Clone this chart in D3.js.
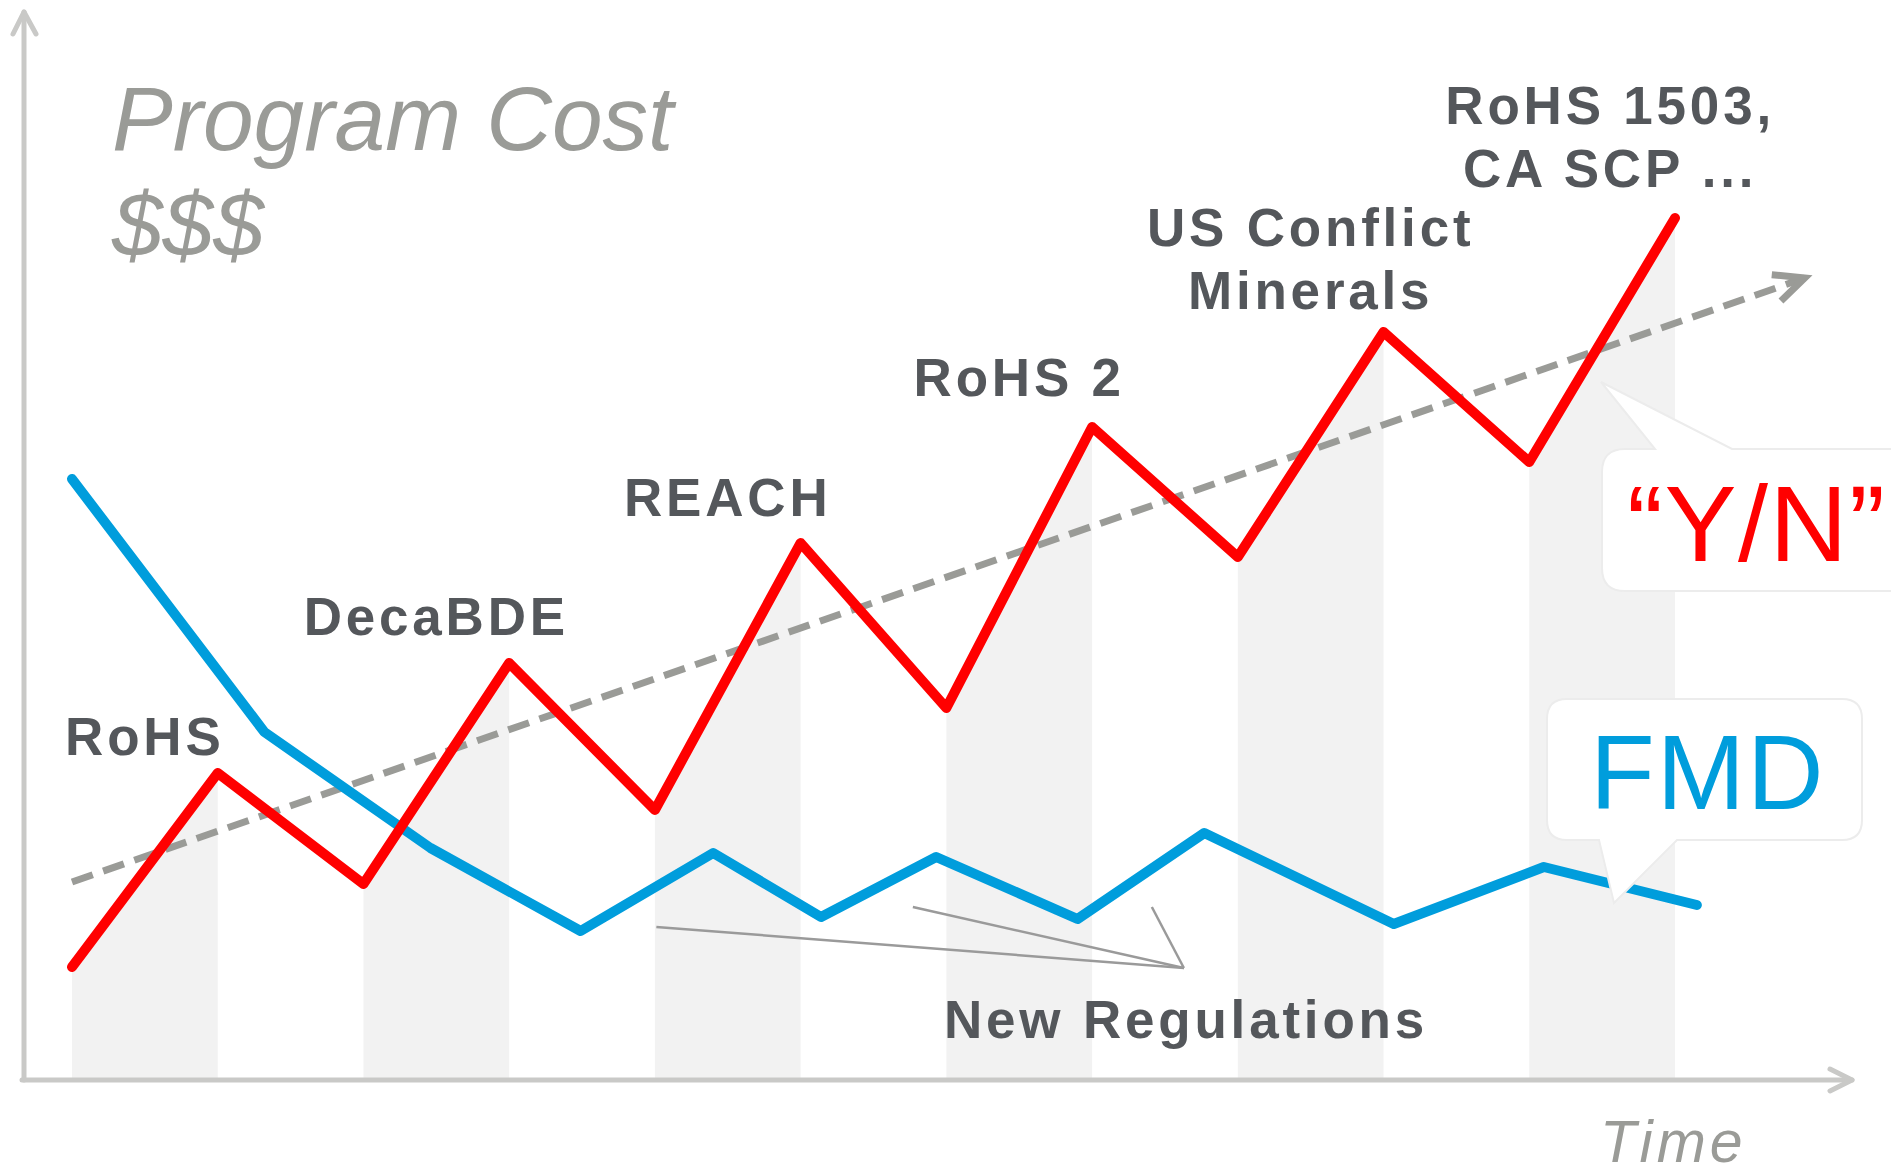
<!DOCTYPE html>
<html>
<head>
<meta charset="utf-8">
<script src="https://cdn.jsdelivr.net/npm/d3@7"></script>
<style>
body { margin: 0; background: #fff; }
svg { display: block; font-family: "Liberation Sans", Arial, sans-serif; }
</style>
</head>
<body>
<script>
var W = 1891, H = 1174;

// program cost per regulation step (red)
var steps = [0, 1, 2, 3, 4, 5, 6, 7, 8, 9, 10, 11];
var programCost = [11.3, 30.7, 19.6, 41.7, 27.0, 53.7, 37.2, 65.3, 52.3, 74.8, 61.8, 86.2];

// FMD cost (blue), sampled at its own points in time
var fmdTime = [0, 1.32, 2.46, 3.49, 4.40, 5.14, 5.93, 6.90, 7.77, 9.07, 10.10, 11.15];
var fmdCost = [60.1, 34.8, 23.2, 14.9, 22.7, 16.3, 22.3, 16.1, 24.7, 15.6, 21.3, 17.5];

// overall trend (dashed arrow)
var trendTime = [0, 11.89];
var trendCost = [19.8, 80.2];

// regulation names, one per shaded column
var regulations = [["RoHS"], ["DecaBDE"], ["REACH"], ["RoHS 2"], ["US Conflict", "Minerals"], ["RoHS 1503,", "CA SCP ..."]];
var regulationStep = [1, 3, 5, 7, 9, 11];

// "New Regulations" pointers: [time, cost] of each pointer start, and where they meet
var pointerFrom = [[4.01, 15.3], [5.77, 17.3], [7.41, 17.3]];
var pointerTo = [7.63, 11.2];

var axisColor = "#c9c9c7", textColor = "#54575b", softText = "#9a9b97";

var svg = d3.select("body").append("svg")
	.attr("width", W)
	.attr("height", H);

var x = d3.scaleLinear().domain([0, 11]).range([72, 1675]);
var y = d3.scaleLinear().domain([0, 100]).range([1080, 80]);

var red = steps.map(function(s, i){ return [s, programCost[i]]; });
var blue = fmdTime.map(function(t, i){ return [t, fmdCost[i]]; });

// shaded columns under the red line
var area = d3.area()
	.x(function(d){ return x(d[0]); })
	.y0(y(0))
	.y1(function(d){ return y(d[1]); });

regulationStep.forEach(function(s){
	svg.append("path")
		.attr("d", area(red.slice(s - 1, s + 1)))
		.attr("fill", "#f2f2f2");
});

// axes with open arrow heads
var axes = svg.append("g")
	.attr("fill", "none")
	.attr("stroke", axisColor)
	.attr("stroke-width", 5)
	.attr("stroke-linecap", "round")
	.attr("stroke-linejoin", "round");

axes.append("path").attr("d", "M24,1080 L24,12");
axes.append("path").attr("d", "M13,34 L24,12 L36,34");
axes.append("path").attr("d", "M22,1080 L1852,1080");
axes.append("path").attr("d", "M1830,1069 L1852,1080 L1830,1091");

var line = d3.line()
	.x(function(d){ return x(d[0]); })
	.y(function(d){ return y(d[1]); });

// trend
var t0 = [x(trendTime[0]), y(trendCost[0])], t1 = [x(trendTime[1]), y(trendCost[1])];
svg.append("path")
	.attr("d", line(trendTime.map(function(t, i){ return [t, trendCost[i]]; })))
	.attr("fill", "none")
	.attr("stroke", "#9a9b97")
	.attr("stroke-width", 7)
	.attr("stroke-dasharray", "22,11");

var dx = t1[0] - t0[0], dy = t1[1] - t0[1], len = Math.sqrt(dx*dx + dy*dy);
var ux = dx/len, uy = dy/len, nx = -uy, ny = ux;
svg.append("path")
	.attr("d", "M" + (t1[0] - 30*ux + 14*nx) + "," + (t1[1] - 30*uy + 14*ny) +
		" L" + t1[0] + "," + t1[1] +
		" L" + (t1[0] - 30*ux - 14*nx) + "," + (t1[1] - 30*uy - 14*ny))
	.attr("fill", "none")
	.attr("stroke", "#9a9b97")
	.attr("stroke-width", 7)
	.attr("stroke-linejoin", "miter");

// FMD line
svg.append("path")
	.attr("d", line(blue))
	.attr("fill", "none")
	.attr("stroke", "#009ddc")
	.attr("stroke-width", 10)
	.attr("stroke-linecap", "round")
	.attr("stroke-linejoin", "round");

// program cost line
svg.append("path")
	.attr("d", line(red))
	.attr("fill", "none")
	.attr("stroke", "#ff0000")
	.attr("stroke-width", 10)
	.attr("stroke-linecap", "round")
	.attr("stroke-linejoin", "round");

// pointer lines to "New Regulations"
pointerFrom.forEach(function(p){
	svg.append("line")
		.attr("x1", x(p[0])).attr("y1", y(p[1]))
		.attr("x2", x(pointerTo[0])).attr("y2", y(pointerTo[1]))
		.attr("stroke", "#9a9a9a")
		.attr("stroke-width", 2.5);
});

// regulation labels
var labelLift = [18, 28, 27, 31, 23, 31];
var labelShift = [0, 0, 0, 0, 0, 8];
regulations.forEach(function(lines, k){
	var s = regulationStep[k];
	var base = y(programCost[s]) - labelLift[k];
	var cx = x(s - 0.5) + labelShift[k];
	lines.forEach(function(txt, j){
		svg.append("text")
			.attr("x", cx)
			.attr("y", base - (lines.length - 1 - j) * 63)
			.attr("text-anchor", "middle")
			.attr("font-size", 53)
			.attr("font-weight", "bold")
			.attr("letter-spacing", 3.8)
			.attr("fill", textColor)
			.text(txt);
	});
});

svg.append("text")
	.attr("x", 944)
	.attr("y", 1038)
	.attr("font-size", 53)
	.attr("font-weight", "bold")
	.attr("letter-spacing", 3.8)
	.attr("fill", textColor)
	.text("New Regulations");

// axis titles
svg.append("text")
	.attr("x", 112).attr("y", 150)
	.attr("font-size", 91)
	.attr("font-style", "italic")
	.attr("fill", softText)
	.text("Program Cost");

svg.append("text")
	.attr("x", 112).attr("y", 256)
	.attr("font-size", 91)
	.attr("font-style", "italic")
	.attr("fill", softText)
	.text("$$$");

svg.append("text")
	.attr("x", 1600).attr("y", 1162)
	.attr("font-size", 59)
	.attr("font-style", "italic")
	.attr("letter-spacing", 4)
	.attr("fill", softText)
	.text("Time");

// speech bubbles
function bubble(x0, y0, x1, y1, r, ptr){
	// ptr: {edge: "top"|"bottom", a, b, tx, ty}
	var p = "M" + (x0 + r) + "," + y0;
	if (ptr.edge == "top") p += " L" + ptr.a + "," + y0 + " L" + ptr.tx + "," + ptr.ty + " L" + ptr.b + "," + y0;
	p += " L" + (x1 - r) + "," + y0 + " Q" + x1 + "," + y0 + " " + x1 + "," + (y0 + r);
	p += " L" + x1 + "," + (y1 - r) + " Q" + x1 + "," + y1 + " " + (x1 - r) + "," + y1;
	if (ptr.edge == "bottom") p += " L" + ptr.b + "," + y1 + " L" + ptr.tx + "," + ptr.ty + " L" + ptr.a + "," + y1;
	p += " L" + (x0 + r) + "," + y1 + " Q" + x0 + "," + y1 + " " + x0 + "," + (y1 - r);
	p += " L" + x0 + "," + (y0 + r) + " Q" + x0 + "," + y0 + " " + (x0 + r) + "," + y0 + " Z";
	return svg.append("path")
		.attr("d", p)
		.attr("fill", "#fff")
		.attr("stroke", "#ececec")
		.attr("stroke-width", 2);
}

bubble(1602, 449, 1920, 591, 23, {edge: "top", a: 1655, b: 1732, tx: 1601, ty: 382});
svg.append("text")
	.attr("x", 1627).attr("y", 561)
	.attr("font-size", 108)
	.attr("letter-spacing", 1.5)
	.attr("fill", "#ff0000")
	.text("\u201CY/N\u201D");

bubble(1547, 699, 1862, 840, 20, {edge: "bottom", a: 1599, b: 1677, tx: 1614, ty: 903});
svg.append("text")
	.attr("x", 1590).attr("y", 809)
	.attr("font-size", 106)
	.attr("letter-spacing", 2)
	.attr("fill", "#009ddc")
	.text("FMD");
</script>
</body>
</html>
